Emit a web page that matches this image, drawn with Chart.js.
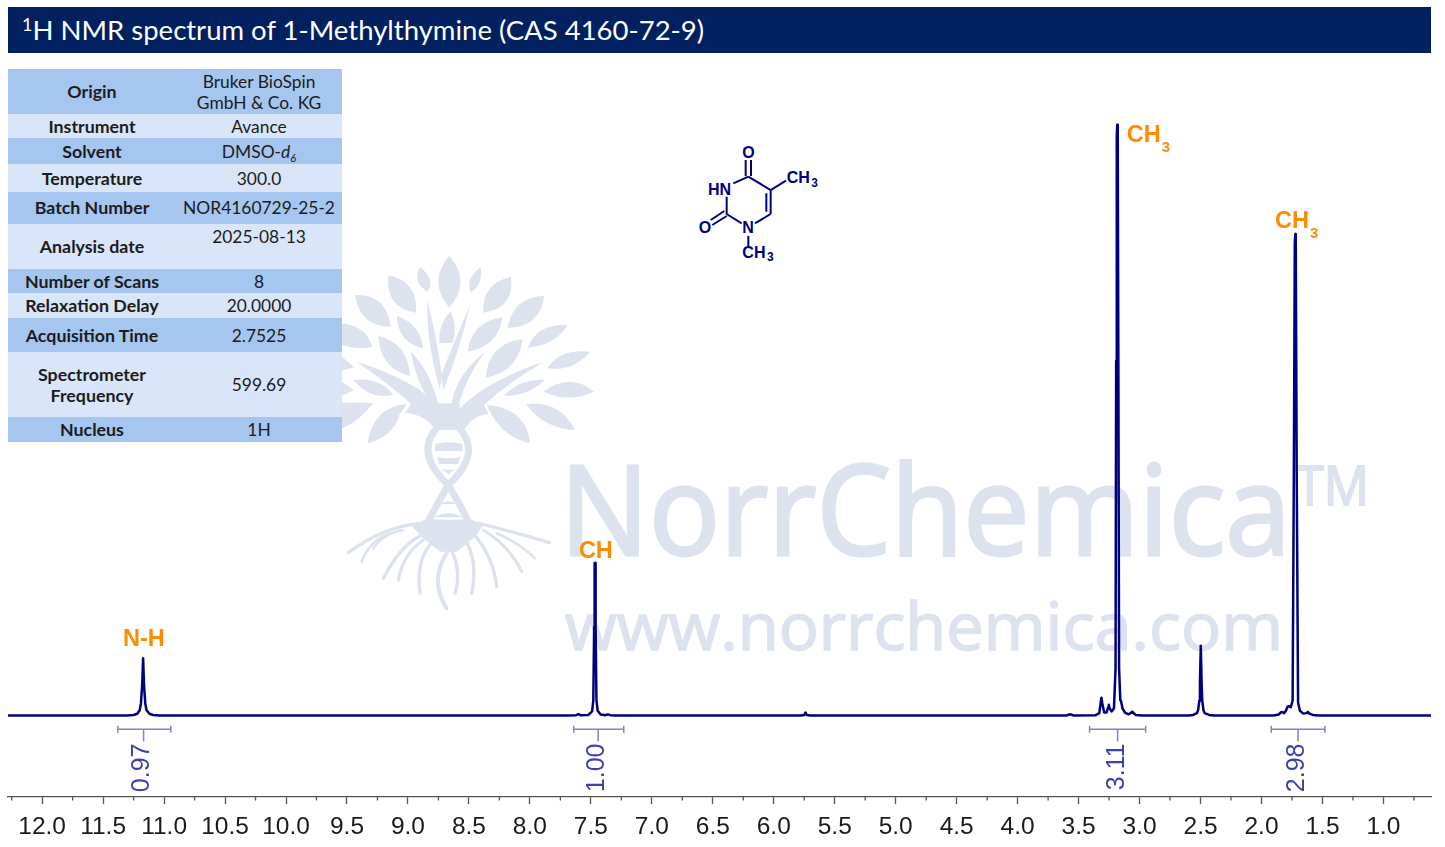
<!DOCTYPE html>
<html>
<head>
<meta charset="utf-8">
<script src="https://cdn.jsdelivr.net/npm/chart.js@4"></script>
<style>
  html, body { margin: 0; padding: 0; background: #fff; }
  #page { position: relative; width: 1445px; height: 847px; overflow: hidden; font-family: Lato, sans-serif; }
  #wrap { position: absolute; left: 0; top: 0; width: 1445px; height: 847px; }
  #titlebar { position: absolute; left: 8px; top: 7px; width: 1423px; height: 46px; background: #002060; color: #fff;
    font-size: 27.5px; line-height: 45px; white-space: nowrap; }
  #titlebar span { margin-left: 14px; }
  #titlebar sup { font-size: 18px; line-height: 0; vertical-align: 9px; }
  #info { position: absolute; left: 8px; top: 69px; width: 334px; border-collapse: collapse; table-layout: fixed;
    font-size: 17.4px; line-height: 21px; color: #1c1c1c; text-align: center; }
  #info td { padding: 0; }
  #info td:first-child { font-weight: 700; width: 168px; font-size: 17.8px; }
  #info sub { font-size: 11px; line-height: 0; }
  .wm { position: absolute; left: 0; top: 0; }
</style>
</head>
<body>
<div id="page">
  <svg class="wm" width="1445" height="847" viewBox="0 0 1445 847">
    <g fill="#dce3ee" stroke="#dce3ee" font-family="Open Sans">
      <text x="560" y="555" font-size="124" stroke-width="3" textLength="731" lengthAdjust="spacingAndGlyphs">NorrChemica</text>
      <text x="1296" y="505" font-size="54" stroke-width="2" textLength="73" lengthAdjust="spacingAndGlyphs">TM</text>
      <text x="565" y="650" font-size="66" stroke-width="1.6" textLength="718" lengthAdjust="spacingAndGlyphs">www.norrchemica.com</text>
    </g>
  </svg>
  <svg class="wm" style="left:340px;top:240px" width="270" height="380" viewBox="0 0 810 1140">
    <g fill="#dce3ef" stroke="none">
      <path d="M328,47 Q395,125 328,203 Q262,125 328,47Z"/>
      <path d="M240,80 Q288,120 262,155 Q215,125 240,80Z"/>
      <path d="M422,82 Q430,135 392,157 Q375,115 422,82Z"/>
      <path d="M145,105 Q235,125 228,218 Q135,205 145,105Z"/>
      <path d="M513,110 Q525,205 430,218 Q425,130 513,110Z"/>
      <path d="M45,165 Q140,160 152,260 Q60,260 45,165Z"/>
      <path d="M613,167 Q600,262 503,263 Q520,170 613,167Z"/>
      <path d="M332,215 Q355,265 338,308 L298,310 Q295,250 332,215Z"/>
      <path d="M170,228 Q240,250 250,325 Q175,310 170,228Z"/>
      <path d="M487,232 Q475,320 383,335 Q395,245 487,232Z"/>
      <path d="M0,250 Q80,255 97,322 Q30,330 0,310Z"/>
      <path d="M683,255 Q640,320 563,323 Q590,250 683,255Z"/>
      <path d="M115,287 Q205,310 210,408 Q120,385 115,287Z"/>
      <path d="M548,297 Q535,395 437,413 Q445,310 548,297Z"/>
      <path d="M750,335 Q700,395 622,385 Q660,325 750,335Z"/>
      <path d="M762,455 Q690,490 610,455 Q690,395 762,455Z"/>
      <path d="M615,420 Q560,470 492,467 Q540,415 615,420Z"/>
      <path d="M40,420 Q120,410 160,465 Q90,480 40,420Z"/>
      <path d="M705,570 Q610,565 558,492 Q660,480 705,570Z"/>
      <path d="M570,610 Q480,590 440,495 Q560,505 570,610Z"/>
      <path d="M82,610 Q100,500 200,492 L178,525 Q160,590 82,610Z"/>
      <path d="M100,490 Q40,560 0,565 L0,490 Q50,485 100,490Z"/>
      <path d="M0,345 L42,382 L0,392Z"/>
      <path d="M0,422 L42,450 L0,470Z"/>
      <path d="M262,180 Q292,300 305,405 L300,450 Q258,300 262,180Z"/>
      <path d="M390,195 Q360,330 310,450 L303,405 Q345,300 390,195Z"/>
      <path d="M212,335 Q275,395 302,520 L280,500 Q225,420 212,335Z"/>
      <path d="M50,365 Q240,425 305,510 L328,565 L282,560 Q190,460 50,365Z"/>
      <path d="M435,335 Q372,420 345,530 L330,540 Q328,420 435,335Z"/>
      <path d="M612,365 Q430,425 345,520 L322,565 L372,560 Q450,460 612,365Z"/>
      <path d="M290,490 L360,490 L355,570 L295,570Z"/>
      <path d="M195,518 Q260,525 285,570 L305,548 Q270,500 215,488Z"/>
      <path d="M445,522 Q400,525 372,570 L345,548 Q390,495 430,490Z"/>
      <path d="M285,612 Q325,602 368,612 L368,633 L285,633Z"/>
      <path d="M292,650 Q325,660 360,650 L355,672 L297,672Z"/>
      <path d="M305,687 Q325,693 345,687 L325,703Z"/>
      <path d="M300,792 Q325,775 350,792Z" />
      <path d="M283,832 Q325,808 368,832Z" />
      <path d="M262,836 Q325,842 390,836 L430,855 L405,890 L350,935 L300,935 L250,895 L215,858Z"/>
    </g>
    <path fill="#fff" d="M323,568 L343,592 L303,592Z"/>
    <g fill="none" stroke="#dce3ef" stroke-linecap="round">
      <path stroke-width="21" d="M292,562 Q222,640 325,735 Q352,780 382,838"/>
      <path stroke-width="21" d="M356,562 Q428,640 325,735 Q298,780 268,838"/>
      <path stroke-width="10" d="M240,850 Q130,860 25,938"/>
      <path stroke-width="8" d="M190,870 Q130,880 100,925"/>
      <path stroke-width="8" d="M150,880 Q90,900 65,965"/>
      <path stroke-width="10" d="M260,880 Q190,900 130,1015"/>
      <path stroke-width="9" d="M250,900 Q190,940 175,1020"/>
      <path stroke-width="10" d="M285,900 Q225,950 240,1060"/>
      <path stroke-width="12" d="M325,930 Q265,1020 320,1105"/>
      <path stroke-width="10" d="M335,930 Q365,1000 345,1060"/>
      <path stroke-width="10" d="M375,900 Q415,960 395,1060"/>
      <path stroke-width="10" d="M400,880 Q460,950 470,1040"/>
      <path stroke-width="9" d="M430,870 Q510,920 545,995"/>
      <path stroke-width="8" d="M470,880 Q540,910 585,955"/>
      <path stroke-width="10" d="M415,850 Q520,875 628,908"/>
    </g>
  </svg>
  <svg class="wm" style="left:680px;top:130px" width="160" height="140" viewBox="0 0 480 420">
    <g stroke="#00007f" stroke-width="6" fill="none">
      <path d="M197,90 V138 M213,90 V138 M205,140 L272,180 L318,152 M272,180 V252 M259,190 V245 M272,252 L225,280 M185,280 L140,252 V200 M160,160 L205,140 M133,243 L92,270 M140,258 L97,285 M205,318 V348"/>
    </g>
    <g fill="#00007f" font-family="Liberation Sans" font-weight="700" font-size="48">
      <text x="187" y="84">O</text>
      <text x="84" y="195">HN</text>
      <text x="56" y="309">O</text>
      <text x="187" y="309">N</text>
      <text x="320" y="158">CH</text>
      <text x="394" y="170" font-size="36">3</text>
      <text x="187" y="384">CH</text>
      <text x="261" y="394" font-size="36">3</text>
    </g>
  </svg>
  <div id="wrap"><canvas id="nmrChart"></canvas></div>
  <div id="titlebar"><span><sup>1</sup>H NMR spectrum of 1-Methylthymine (CAS 4160-72-9)</span></div>
  <table id="info"></table>
</div>
<script>
// spectrum (ppm / relative intensity, tallest peak = 100)
const specPpm = [12.28, 11.30, 11.25, 11.22, 11.20, 11.19, 11.18, 11.172, 11.164, 11.154, 11.144, 11.12, 11.09, 11.04,
  7.70, 7.62, 7.60, 7.585, 7.52, 7.49, 7.48, 7.473, 7.469, 7.465, 7.461, 7.454, 7.444, 7.42, 7.38, 7.36, 7.34, 7.30,
  5.78, 5.75, 5.74, 5.73, 5.70,
  3.60, 3.57, 3.54, 3.36, 3.33, 3.32, 3.313, 3.305, 3.29, 3.27, 3.258, 3.252, 3.245, 3.23, 3.21, 3.197, 3.192, 3.187, 3.183, 3.179, 3.174, 3.168, 3.158, 3.152, 3.14, 3.12, 3.09, 3.07, 3.06, 3.05, 3.03, 2.98,
  2.60, 2.56, 2.53, 2.52, 2.51, 2.505, 2.498, 2.491, 2.486, 2.476, 2.466, 2.43, 2.39,
  1.90, 1.86, 1.84, 1.83, 1.815, 1.80, 1.785, 1.775, 1.76, 1.745, 1.735, 1.727, 1.723, 1.719, 1.711, 1.70, 1.685, 1.66, 1.63, 1.62, 1.61, 1.58, 1.53, 0.61];
const specInt = [0, 0, 0.08, 0.3, 0.9, 2.0, 5.0, 9.7, 5.0, 2.0, 0.9, 0.3, 0.08, 0,
  0, 0.05, 0.25, 0.05, 0.1, 0.7, 2.5, 15, 25.8, 25.8, 15, 2.5, 0.8, 0.15, 0.05, 0.2, 0.05, 0,
  0, 0.1, 0.5, 0.1, 0,
  0, 0.2, 0, 0.05, 0.4, 2.0, 3.0, 2.0, 0.5, 0.5, 1.4, 1.8, 1.2, 0.7, 1.2, 8, 60, 98, 100, 98, 60, 8, 2.6, 2.45, 1.2, 0.5, 0.2, 0.45, 0.65, 0.4, 0.1, 0,
  0, 0.1, 0.4, 0.9, 2.5, 5.5, 11.8, 5.5, 2.5, 0.9, 0.4, 0.1, 0,
  0, 0.15, 0.55, 0.6, 0.4, 0.8, 1.5, 1.6, 1.4, 2.5, 40, 80, 81.5, 80, 40, 2.2, 0.8, 0.35, 0.4, 0.6, 0.35, 0.1, 0, 0];

const majorTicks = [12.0, 11.5, 11.0, 10.5, 10.0, 9.5, 9.0, 8.5, 8.0, 7.5, 7.0, 6.5, 6.0, 5.5, 5.0, 4.5, 4.0, 3.5, 3.0, 2.5, 2.0, 1.5, 1.0];
const minorTicks = [12.25, 11.75, 11.25, 10.75, 10.25, 9.75, 9.25, 8.75, 8.25, 7.75, 7.25, 6.75, 6.25, 5.75, 5.25, 4.75, 4.25, 3.75, 3.25, 2.75, 2.25, 1.75, 1.25, 0.75];

// integral brackets
const integralFrom = [11.379, 7.64, 3.41, 1.92];
const integralTo = [10.945, 7.23, 2.95, 1.48];
const integralMid = [11.168, 7.44, 3.18, 1.70];
const integralValues = ['0.97', '1.00', '3.11', '2.98'];

// peak assignments
const peakNames = ['N-H', 'CH', 'CH', 'CH'];
const peakSubs = ['', '', '3', '3'];
const peakPpm = [11.166, 7.459, 2.965, 1.75];
const peakAt = [11.8, 26.7, 97.1, 82.5];

// acquisition table
const infoLabels = ['Origin', 'Instrument', 'Solvent', 'Temperature', 'Batch Number', 'Analysis date', 'Number of Scans', 'Relaxation Delay', 'Acquisition Time', 'Spectrometer<br>Frequency', 'Nucleus'];
const infoValues = ['Bruker BioSpin<br>GmbH &amp; Co. KG', 'Avance', 'DMSO-<i>d</i><sub><i>6</i></sub>', '300.0', 'NOR4160729-25-2', '2025-08-13', '8', '20.0000', '2.7525', '599.69', '1H'];
const infoRowHeights = [45, 24, 26, 28, 31.5, 45.5, 24, 25, 34, 65, 25];

const info = document.getElementById('info');
infoLabels.forEach((label, i) => {
  const row = info.insertRow();
  row.style.height = infoRowHeights[i] + 'px';
  row.style.background = i % 2 ? '#d9e5f8' : '#a4c6ef';
  row.insertCell().innerHTML = label;
  const val = row.insertCell();
  val.innerHTML = infoValues[i];
  if (label === 'Analysis date') { val.style.verticalAlign = 'top'; val.style.paddingTop = '2px'; }
});

const bracketUp = -1.75, bracketMid = -2.34, bracketDown = -2.93, stemEnd = -4.4;
const integralSets = integralFrom.map((from, i) => ({
  data: [
    { x: from, y: bracketUp }, { x: from, y: bracketDown }, { x: from, y: bracketMid },
    { x: integralMid[i], y: bracketMid }, { x: integralMid[i], y: stemEnd }, { x: integralMid[i], y: bracketMid },
    { x: integralTo[i], y: bracketMid }, { x: integralTo[i], y: bracketUp }, { x: integralTo[i], y: bracketDown }
  ],
  borderColor: '#7f86c6',
  borderWidth: 1.5,
  pointRadius: 0,
  tension: 0
}));

// short minor ticks, integral numbers and peak names on top of the plot
const extras = {
  id: 'extras',
  afterDraw(chart) {
    const { ctx, scales: { x, y } } = chart;
    const axisY = chart.chartArea.bottom;
    ctx.save();
    ctx.strokeStyle = '#555';
    ctx.lineWidth = 1.3;
    minorTicks.forEach(v => {
      const px = x.getPixelForValue(v);
      ctx.beginPath();
      ctx.moveTo(px, axisY);
      ctx.lineTo(px, axisY + 3.5);
      ctx.stroke();
    });

    ctx.fillStyle = '#3f3fae';
    ctx.font = '25px "Liberation Sans"';
    ctx.textBaseline = 'middle';
    integralValues.forEach((txt, i) => {
      ctx.save();
      ctx.translate(x.getPixelForValue(integralMid[i]) - 1, y.getPixelForValue(stemEnd) + 2);
      ctx.rotate(-Math.PI / 2);
      ctx.textAlign = 'right';
      ctx.fillText(txt, 0, 0);
      ctx.restore();
    });

    ctx.fillStyle = '#ff8c00';
    ctx.textBaseline = 'alphabetic';
    peakNames.forEach((txt, i) => {
      ctx.font = 'bold 23.5px "Liberation Sans"';
      const w = ctx.measureText(txt).width;
      const px = x.getPixelForValue(peakPpm[i]);
      const py = y.getPixelForValue(peakAt[i]);
      ctx.textAlign = 'left';
      ctx.fillText(txt, px - w / 2, py);
      if (peakSubs[i]) {
        ctx.font = 'bold 15px "Liberation Sans"';
        ctx.fillText(peakSubs[i], px + w / 2 + 1, py + 10);
      }
    });
    ctx.restore();
  }
};

new Chart(document.getElementById('nmrChart'), {
  type: 'line',
  data: {
    datasets: [{
      data: specPpm.map((p, i) => ({ x: p, y: specInt[i] })),
      borderColor: '#00007f',
      borderWidth: 2.5,
      borderJoinStyle: 'round',
      pointRadius: 0,
      tension: 0
    }, ...integralSets]
  },
  plugins: [extras],
  options: {
    responsive: true,
    maintainAspectRatio: false,
    animation: false,
    layout: { padding: { left: 8, right: 14, top: 100, bottom: 0 } },
    plugins: {
      legend: { display: false },
      tooltip: { enabled: false }
    },
    scales: {
      x: {
        type: 'linear',
        reverse: true,
        min: 0.61,
        max: 12.28,
        afterBuildTicks: s => { s.ticks = majorTicks.map(v => ({ value: v })); },
        afterFit: s => { s.height = 50; },
        border: { color: '#555', width: 1.3 },
        grid: { drawOnChartArea: false, color: '#555', tickLength: 7, tickWidth: 1.3 },
        ticks: {
          autoSkip: false,
          maxRotation: 0,
          padding: 9,
          color: '#1b1b1b',
          font: { family: 'Liberation Sans', size: 24.5 },
          callback: v => v.toFixed(1)
        }
      },
      y: {
        display: false,
        min: -13.8,
        max: 104.2
      }
    }
  }
});
</script>
</body>
</html>
